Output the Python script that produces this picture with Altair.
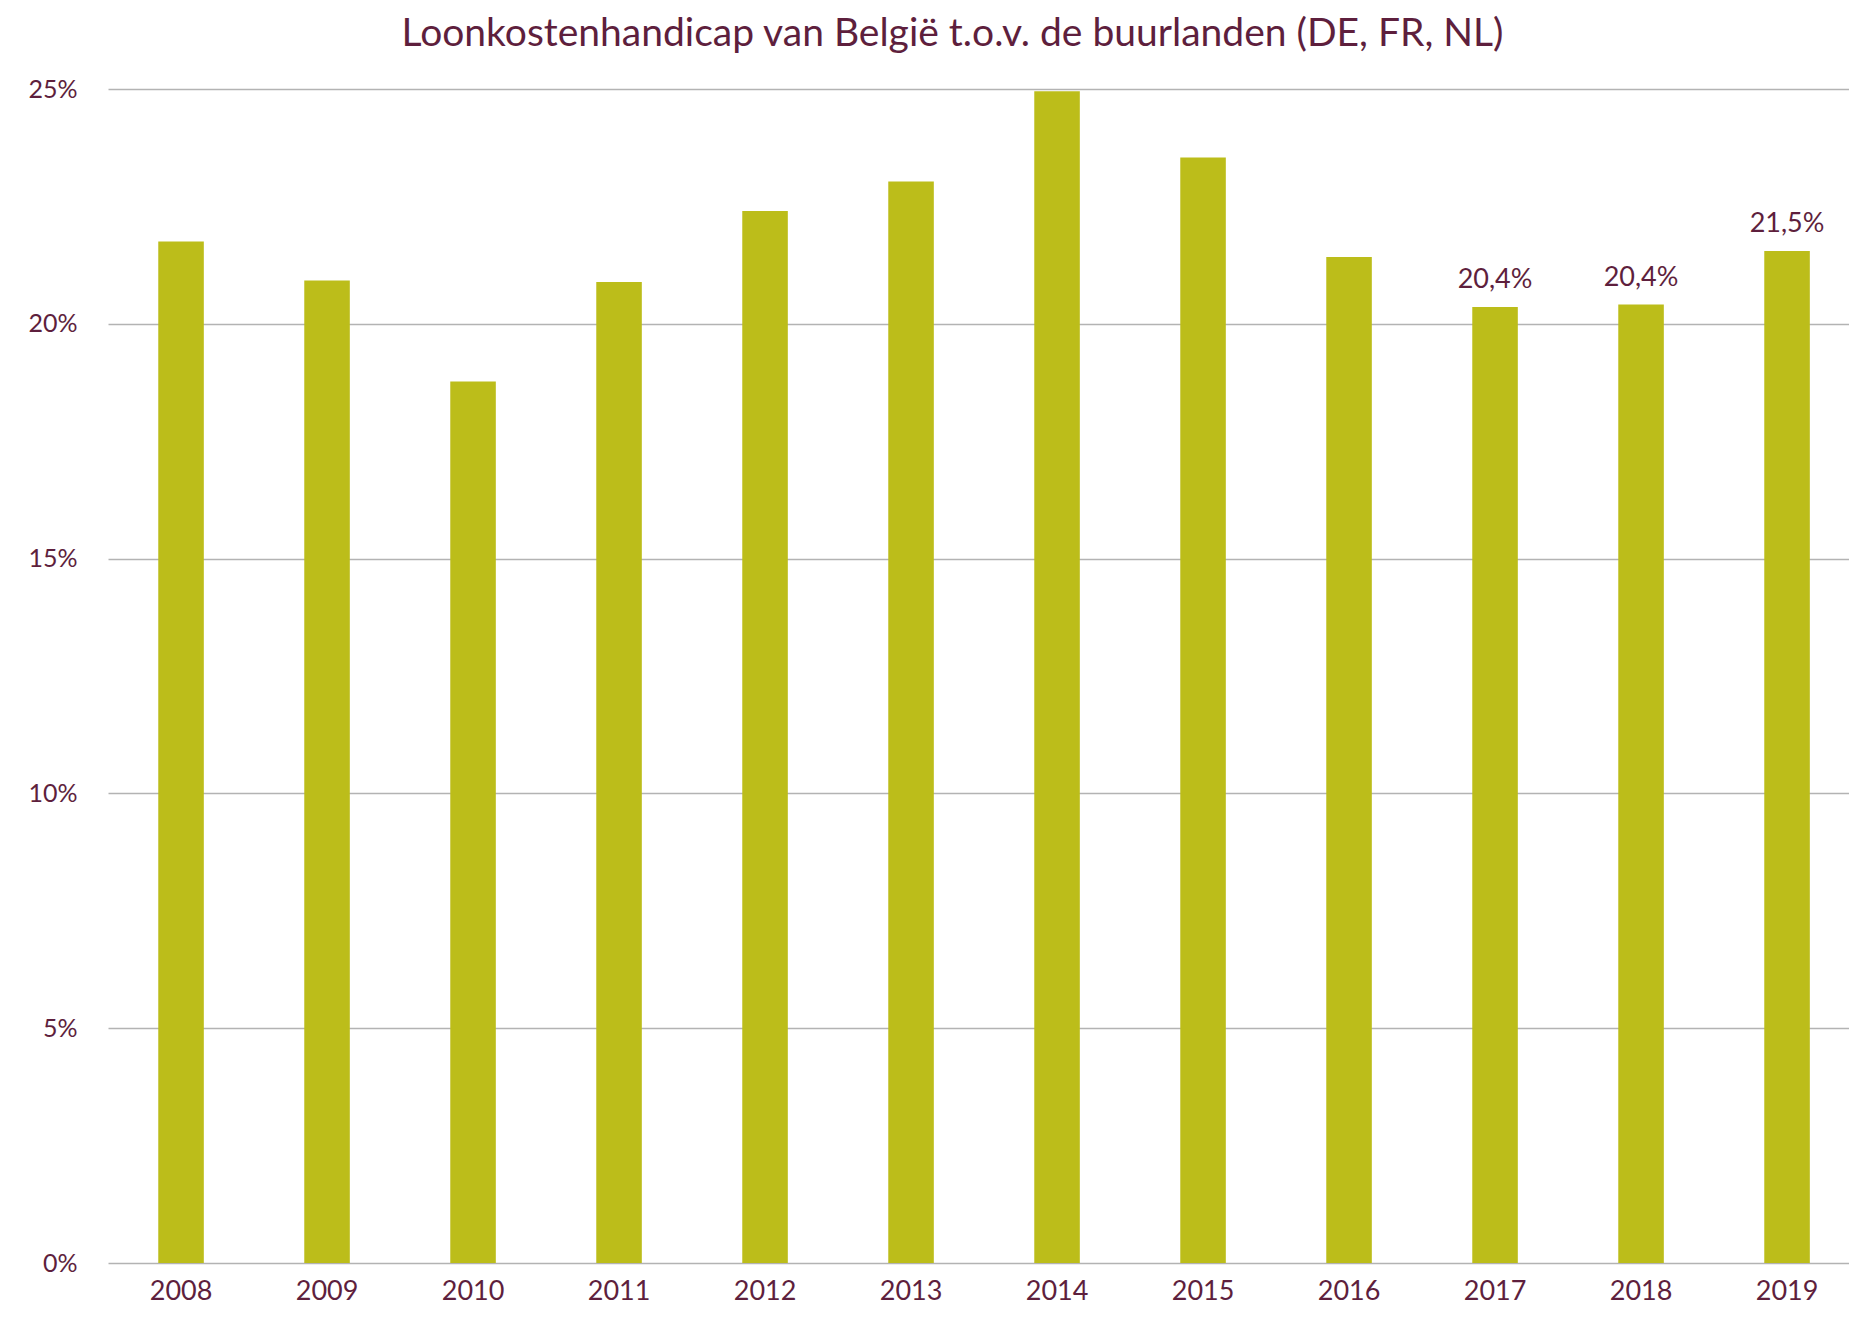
import altair as alt
import pandas as pd

years = ["2008", "2009", "2010", "2011", "2012", "2013", "2014", "2015", "2016", "2017", "2018", "2019"]
values = [21.75, 20.92, 18.77, 20.89, 22.40, 23.03, 24.95, 23.54, 21.42, 20.36, 20.41, 21.55]
labels = ["", "", "", "", "", "", "", "", "", "20,4%", "20,4%", "21,5%"]

df = pd.DataFrame({"jaar": years, "waarde": [v / 100 for v in values], "label": labels})

TEXT = "#5E1F3D"
BAR = "#BCBD1A"
FONT = "Lato"

base = alt.Chart(df).encode(
    x=alt.X("jaar:N", sort=years, title=None,
            scale=alt.Scale(paddingInner=0.688, paddingOuter=0.3063, align=0.562),
            axis=alt.Axis(labelAngle=0, ticks=False, domain=False, labelPadding=36,
                          labelBaseline="alphabetic",
                          labelFontSize=27, labelColor=TEXT, labelFont=FONT, grid=False)),
    y=alt.Y("waarde:Q", title=None,
            scale=alt.Scale(domain=[0, 0.25], nice=False),
            axis=alt.Axis(format=".0%", values=[0, 0.05, 0.1, 0.15, 0.2, 0.25], ticks=False,
                          domain=False, labelPadding=31, labelFontSize=25, labelColor=TEXT,
                          labelFont=FONT, gridColor="#B3B3B3", gridWidth=1.3)),
)

bars = base.mark_bar(color=BAR)
text = base.mark_text(dy=-19, baseline="alphabetic", fontSize=27, color=TEXT, font=FONT).encode(
    text="label:N")

chart = (bars + text).properties(
    width=1741, height=1174,
    padding={"left": 100, "top": 81, "right": 0, "bottom": 46},
    autosize=alt.AutoSizeParams(type="none"),
    title=alt.TitleParams("Loonkostenhandicap van België t.o.v. de buurlanden (DE, FR, NL)",
                          fontSize=39, font=FONT, color=TEXT, fontWeight="normal",
                          anchor="middle", dx=-26, dy=42, offset=38),
).configure_view(stroke=None)

chart.save("out.html", embed_options={"renderer": "svg", "actions": False})
